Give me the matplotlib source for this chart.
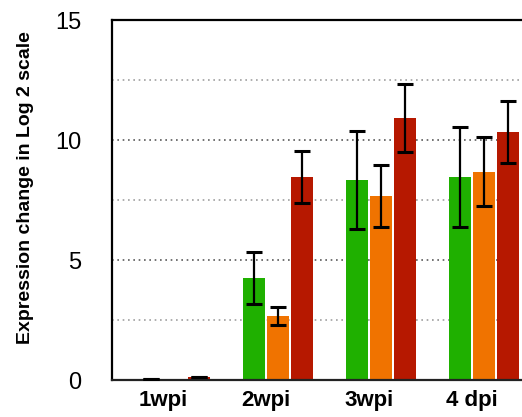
import numpy as np
import matplotlib.pyplot as plt

plt.rcParams['font.family'] = ['Liberation Sans', 'DejaVu Sans']

groups = ['1wpi', '2wpi', '3wpi', '4 dpi']
green = [0.03, 4.25, 8.33, 8.46]
green_err = [0.0, 1.07, 2.04, 2.07]
orange = [0.0, 2.67, 7.67, 8.67]
orange_err = [0.0, 0.38, 1.3, 1.44]
red = [0.12, 8.46, 10.92, 10.33]
red_err = [0.0, 1.07, 1.4, 1.29]

colors = ['#1fb000', '#f07300', '#b61800']

fig = plt.figure(figsize=(5.22, 4.17), dpi=100)
ax = fig.add_axes([0.2146, 0.0887, 0.7854, 0.8633])

x = np.arange(len(groups))
w = 22 / 103
step = 24 / 103
offsets = [-0.1165, -0.1165 + step, -0.1165 + 2 * step]

# dotted grid behind bars
for yv in [2.5, 5, 7.5, 10, 12.5]:
    c = '#5a5a5a' if yv % 5 == 0 else '#a0a0a0'
    ax.axhline(yv, color=c, lw=1.2, ls=(0, (1, 2.2)), zorder=0)

series = [(green, green_err), (orange, orange_err), (red, red_err)]
for (vals, errs), off, col in zip(series, offsets, colors):
    ax.bar(x + off, vals, width=w, color=col, zorder=2)
    e = np.array(errs)
    mask = e > 0
    ax.errorbar((x + off)[mask], np.array(vals)[mask], yerr=e[mask], fmt='none',
                ecolor='black', elinewidth=1.6, capsize=5.8, capthick=2.2, zorder=3)

# tiny caps on the flat 1wpi bars
ax.errorbar([x[0] + offsets[0], x[0] + offsets[2]], [green[0], red[0]], yerr=[0.0, 0.0],
            fmt='none', ecolor='black', elinewidth=1.6, capsize=5.8, capthick=2.2, zorder=3)

ax.set_xlim(-0.495, 3.485)
ax.set_ylim(0, 15)
ax.set_yticks([0, 5, 10, 15])
ax.set_xticks(x)
ax.set_xticklabels(groups, fontsize=16, fontweight='bold')
ax.tick_params(axis='y', length=0, pad=22, labelsize=17)
ax.tick_params(axis='x', length=0, pad=7)
ax.set_ylabel('Expression change in Log 2 scale', fontsize=14, fontweight='bold')
ax.yaxis.set_label_coords(-0.19, 0.535)

for s in ['left', 'top']:
    ax.spines[s].set_linewidth(1.6)
    ax.spines[s].set_color('black')
ax.spines['bottom'].set_linewidth(1.6)
ax.spines['bottom'].set_color('#222222')
ax.spines['right'].set_visible(False)

fig.savefig('out.png', dpi=100)
